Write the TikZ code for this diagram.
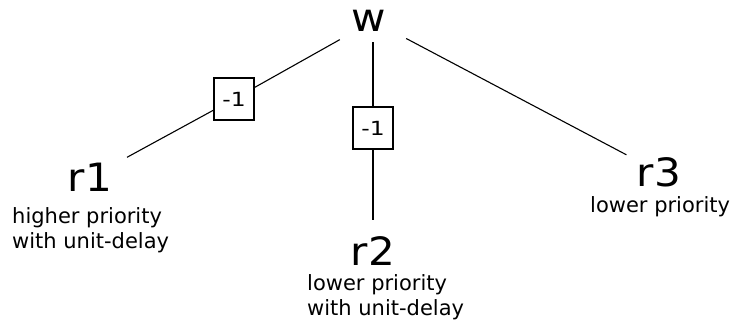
\documentclass[tikz,border=0pt]{standalone}
\usepackage{fontspec}
\setmainfont{DejaVu Sans}
\newfontfamily\labelfont[FakeStretch=1.08]{DejaVu Sans}
\newfontfamily\delayfont[FakeStretch=1.2]{DejaVu Sans}
\begin{document}
\begin{tikzpicture}[x=1pt,y=-1pt,
  vertex/.style={inner sep=0pt,font=\labelfont\fontsize{39}{40}\selectfont},
  delaybox/.style={draw,line width=1.1pt,minimum width=40pt,minimum height=42pt,
    inner sep=0pt,font=\delayfont\fontsize{19.5}{20}\selectfont},
  note/.style={inner sep=0pt,align=left,anchor=base west,
    font=\fontsize{21}{24.5}\selectfont},
  edge/.style={line width=1.1pt}]
\useasboundingbox (0,0) rectangle (733,327);

% writer and readers
\node[vertex,minimum width=66pt,minimum height=42pt] (w) at (373,21) {\hspace*{-8pt}w};
\node[vertex,minimum width=80pt,minimum height=40pt] (r1) at (90,177.5) {r1};
\node[vertex,minimum width=80pt,minimum height=62pt] (r2) at (373,251) {r2};
\node[vertex,minimum width=80pt,minimum height=34pt] (r3) at (659,172) {r3};

% unit-delay boxes
\node[delaybox] (d1) at (234,99) {-1};
\node[delaybox] (d2) at (373,128) {-1};

% reader annotations (anchored at the baseline of the last line)
\node[note] (r1note) at (12,248) {higher priority\\with unit-delay};
\node[note] (r2note) at (307,315) {lower priority\\with unit-delay};
\node[note] (r3note) at (590,212) {lower priority};

% connections
\draw[edge] (w) -- (d1) -- (r1);
\draw[edge] (w) -- (d2) -- (r2);
\draw[edge] (w) -- (r3);
\end{tikzpicture}
\end{document}
